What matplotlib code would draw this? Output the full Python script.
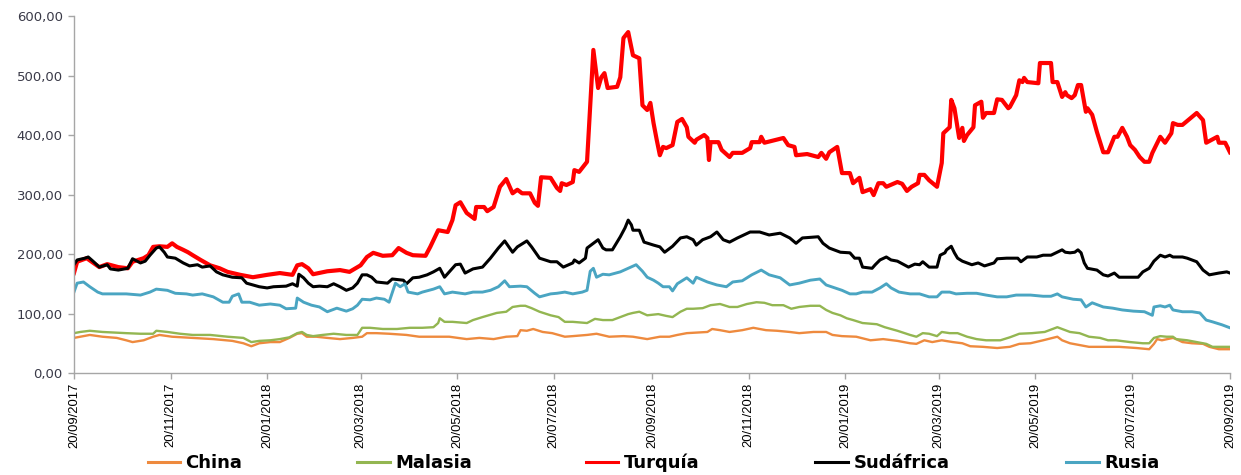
import matplotlib
matplotlib.use('Agg')
import matplotlib.pyplot as plt
import matplotlib.dates as mdates
from matplotlib.ticker import FuncFormatter, MultipleLocator
import pandas as pd

inicio = pd.Timestamp('2017-09-20')
fin = pd.Timestamp('2019-09-20')

# cada serie: dias desde el 20/09/2017 y su valor
china_dias = [0, 4, 10, 18, 27, 33, 37, 44, 50, 54, 62, 75, 88, 100, 107, 112, 117, 124, 130, 136,
              141, 144, 147, 153, 160, 168, 176, 182, 185, 191, 199, 210, 218, 227, 237, 248, 256, 265,
              273, 280, 282, 286, 290, 296, 302, 310, 315, 324, 330, 338, 347, 353, 362, 370, 376, 381,
              387, 400, 403, 408, 414, 422, 429, 437, 444, 452, 458, 467, 475, 479, 485, 494, 503, 511,
              520, 528, 532, 537, 542, 548, 555, 561, 566, 574, 583, 591, 597, 604, 612, 618, 621, 624,
              629, 635, 641, 652, 660, 671, 679, 682, 684, 687, 694, 696, 700, 706, 713, 717, 723, 730]
china = [59, 61, 64, 61, 59, 55, 52, 55, 61, 64, 61, 59, 57, 54, 50, 45, 50, 52, 52, 59,
         66, 67, 61, 61, 59, 57, 59, 61, 67, 67, 66, 64, 61, 61, 61, 57, 59, 57,
         61, 62, 72, 71, 74, 69, 67, 61, 62, 64, 66, 61, 62, 61, 57, 61, 61, 64,
         67, 69, 74, 72, 69, 72, 76, 72, 71, 69, 67, 69, 69, 64, 62, 61, 55, 57,
         54, 50, 49, 55, 52, 55, 52, 50, 45, 44, 42, 44, 49, 50, 55, 59, 61, 55,
         50, 47, 44, 44, 44, 42, 40, 49, 57, 55, 59, 57, 52, 50, 49, 44, 40, 40]

malasia_dias = [0, 4, 10, 18, 33, 42, 50, 52, 59, 67, 75, 86, 97, 107, 112, 117, 124, 130, 136, 141,
                144, 147, 151, 157, 164, 172, 179, 182, 187, 195, 204, 212, 220, 227, 230, 231, 234, 239,
                248, 252, 258, 267, 273, 277, 282, 285, 289, 294, 301, 306, 310, 315, 324, 329, 334, 340,
                350, 353, 357, 362, 369, 374, 378, 383, 387, 391, 397, 402, 408, 414, 419, 425, 431, 436,
                441, 448, 453, 458, 465, 471, 475, 479, 484, 488, 492, 498, 507, 512, 520, 528, 532, 536,
                540, 545, 548, 553, 558, 564, 570, 576, 585, 591, 597, 605, 613, 618, 621, 624, 629, 635,
                641, 648, 653, 658, 667, 675, 679, 682, 686, 690, 694, 696, 703, 709, 715, 719, 730]
malasia = [67, 69, 71, 69, 67, 66, 66, 71, 69, 66, 64, 64, 61, 59, 52, 54, 55, 57, 60, 67,
           69, 64, 62, 64, 66, 64, 64, 76, 76, 74, 74, 76, 76, 77, 84, 92, 86, 86,
           84, 89, 94, 101, 103, 111, 113, 113, 109, 103, 97, 94, 86, 86, 84, 91, 89, 89,
           99, 101, 103, 97, 99, 96, 94, 103, 108, 108, 109, 114, 116, 111, 111, 116, 119, 118,
           114, 114, 108, 111, 113, 113, 106, 101, 97, 92, 89, 84, 82, 77, 71, 64, 61, 67,
           66, 62, 69, 67, 67, 61, 57, 55, 55, 60, 66, 67, 69, 74, 77, 74, 69, 67,
           61, 59, 55, 55, 52, 50, 50, 59, 62, 61, 61, 57, 55, 52, 49, 44, 44]

turquia_dias = [0, 2, 8, 16, 21, 28, 34, 37, 44, 47, 50, 54, 59, 62, 65, 69, 72, 75, 80, 86,
                92, 97, 105, 113, 122, 130, 138, 141, 144, 148, 151, 160, 168, 174, 181, 185, 189, 195,
                201, 205, 210, 214, 222, 225, 230, 236, 239, 241, 244, 248, 253, 254, 259, 261, 265, 269,
                273, 277, 280, 283, 288, 291, 293, 295, 301, 305, 307, 308, 311, 315, 316, 319, 324, 328,
                331, 333, 335, 337, 343, 345, 347, 350, 353, 357, 359, 362, 364, 366, 368, 370, 372, 374,
                378, 381, 384, 387, 388, 392, 393, 398, 400, 401, 402, 407, 409, 414, 416, 422, 427, 428,
                433, 434, 436, 448, 451, 455, 456, 463, 470, 472, 475, 477, 482, 485, 490, 492, 496, 498,
                503, 505, 508, 511, 513, 520, 523, 526, 529, 533, 534, 537, 540, 545, 548, 549, 553, 554,
                556, 559, 561, 562, 564, 568, 569, 573, 574, 576, 581, 583, 586, 590, 591, 595, 597, 599,
                600, 602, 609, 610, 617, 618, 621, 624, 626, 627, 630, 632, 634, 636, 639, 640, 643, 646,
                650, 653, 657, 659, 662, 665, 667, 670, 673, 676, 679, 681, 686, 689, 693, 694, 697, 700,
                709, 713, 715, 722, 723, 727, 730]
turquia = [168, 187, 193, 178, 183, 178, 176, 187, 193, 198, 212, 213, 212, 218, 212, 207, 203, 198, 190, 181,
           176, 170, 165, 161, 165, 168, 165, 181, 183, 176, 166, 171, 173, 170, 181, 195, 202, 197,
           198, 210, 202, 198, 197, 212, 240, 237, 257, 282, 287, 269, 259, 279, 279, 272, 279, 313,
           326, 302, 308, 302, 302, 286, 281, 329, 328, 311, 306, 319, 316, 321, 341, 338, 355, 543,
           479, 497, 504, 479, 481, 497, 563, 573, 534, 529, 450, 442, 454, 420, 392, 366, 380, 378,
           383, 422, 427, 413, 397, 387, 392, 400, 395, 358, 388, 388, 375, 363, 370, 370, 378, 388,
           388, 397, 387, 395, 383, 380, 366, 368, 363, 370, 360, 371, 380, 336, 336, 319, 328, 304,
           309, 299, 319, 319, 313, 321, 318, 306, 313, 319, 333, 333, 324, 313, 353, 403, 413, 459,
           445, 395, 412, 390, 400, 413, 450, 456, 429, 437, 437, 460, 459, 445, 447, 467, 492, 489,
           496, 489, 487, 521, 521, 489, 489, 464, 472, 467, 462, 467, 484, 484, 439, 445, 434, 405,
           371, 371, 397, 397, 412, 397, 383, 375, 363, 355, 355, 370, 397, 387, 403, 420, 417, 417,
           437, 425, 387, 397, 387, 387, 371]

sudafrica_dias = [0, 2, 7, 9, 12, 16, 21, 23, 28, 34, 37, 42, 45, 48, 52, 54, 57, 59, 64, 69,
                  73, 78, 81, 86, 90, 94, 100, 106, 109, 113, 117, 122, 126, 134, 138, 141, 142, 145,
                  148, 151, 155, 160, 164, 168, 172, 176, 179, 182, 185, 188, 191, 198, 201, 208, 210, 214,
                  218, 223, 227, 231, 234, 237, 241, 244, 247, 252, 258, 263, 268, 272, 277, 280, 286, 289,
                  294, 301, 305, 309, 315, 316, 319, 323, 324, 328, 331, 334, 336, 340, 345, 348, 350, 352,
                  353, 357, 360, 366, 370, 373, 378, 383, 387, 391, 393, 397, 402, 406, 410, 414, 419, 427,
                  433, 439, 446, 452, 456, 460, 470, 473, 477, 484, 490, 493, 496, 498, 504, 506, 509, 513,
                  516, 520, 527, 531, 534, 536, 540, 545, 547, 550, 551, 554, 556, 558, 561, 567, 571, 575,
                  581, 583, 589, 596, 598, 602, 608, 612, 617, 624, 626, 629, 632, 634, 636, 638, 640, 646,
                  650, 653, 657, 660, 665, 672, 675, 679, 682, 686, 689, 692, 694, 700, 703, 709, 713, 717,
                  723, 728, 730]
sudafrica = [182, 190, 193, 195, 188, 178, 182, 175, 173, 176, 192, 185, 188, 198, 210, 212, 203, 195, 193, 185,
             180, 182, 178, 180, 170, 165, 161, 160, 151, 148, 145, 143, 145, 146, 150, 146, 166, 160,
             151, 145, 146, 145, 150, 145, 139, 143, 151, 165, 165, 161, 153, 151, 158, 156, 150, 160,
             161, 165, 170, 176, 161, 170, 182, 183, 168, 175, 178, 193, 210, 222, 203, 212, 222, 212,
             193, 187, 187, 178, 185, 190, 185, 193, 210, 218, 224, 210, 207, 207, 229, 244, 257, 249,
             240, 240, 220, 215, 212, 203, 213, 227, 229, 224, 215, 224, 229, 237, 224, 220, 227, 237,
             237, 232, 235, 227, 218, 227, 229, 218, 210, 203, 202, 193, 193, 178, 176, 182, 190, 195,
             190, 188, 178, 183, 182, 187, 178, 178, 198, 202, 207, 213, 202, 193, 188, 182, 185, 180,
             185, 192, 193, 193, 187, 195, 195, 198, 198, 207, 203, 202, 203, 207, 202, 185, 176, 173,
             165, 163, 168, 161, 161, 161, 170, 176, 188, 198, 195, 198, 195, 195, 193, 187, 173, 165,
             168, 170, 168]

rusia_dias = [0, 2, 6, 10, 15, 18, 25, 33, 42, 48, 52, 59, 64, 71, 75, 81, 88, 94, 98, 100,
              104, 106, 111, 117, 124, 130, 134, 140, 141, 145, 150, 155, 160, 166, 172, 176, 179, 182,
              187, 191, 196, 199, 203, 206, 209, 211, 217, 220, 227, 231, 234, 239, 247, 252, 258, 263,
              268, 272, 275, 282, 286, 291, 294, 301, 305, 310, 315, 321, 324, 326, 328, 330, 334, 338,
              345, 350, 355, 359, 362, 366, 369, 372, 376, 378, 381, 387, 391, 393, 400, 406, 412, 416,
              422, 428, 434, 439, 446, 452, 458, 465, 471, 475, 485, 490, 494, 498, 504, 509, 513, 516,
              521, 528, 534, 540, 545, 548, 553, 557, 564, 570, 576, 583, 589, 595, 604, 612, 617, 621,
              624, 631, 636, 639, 643, 650, 656, 662, 669, 676, 681, 682, 686, 689, 692, 694, 700, 706,
              711, 715, 719, 725, 730]
rusia = [136, 151, 153, 145, 136, 133, 133, 133, 131, 136, 141, 139, 134, 133, 131, 133, 128, 119, 119, 129,
         133, 119, 119, 114, 116, 114, 108, 109, 126, 119, 114, 111, 103, 109, 104, 108, 114, 124,
         123, 126, 124, 119, 151, 145, 150, 136, 133, 136, 141, 145, 133, 136, 133, 136, 136, 139,
         145, 155, 145, 146, 145, 134, 128, 133, 134, 136, 133, 136, 139, 171, 176, 161, 166, 165,
         170, 176, 182, 171, 161, 156, 151, 145, 145, 138, 150, 160, 151, 161, 153, 148, 145, 153,
         155, 165, 173, 165, 160, 148, 151, 156, 158, 148, 139, 133, 133, 136, 136, 143, 150, 143,
         136, 133, 133, 128, 128, 136, 136, 133, 134, 134, 131, 128, 128, 131, 131, 129, 129, 133,
         128, 124, 123, 111, 118, 111, 109, 106, 104, 103, 97, 111, 113, 111, 114, 106, 103, 103,
         101, 89, 86, 81, 76]

series = [
    ('China', china_dias, china, '#EE8A3E', 1.7),
    ('Malasia', malasia_dias, malasia, '#93B651', 1.7),
    ('Turquía', turquia_dias, turquia, '#FF0000', 3.0),
    ('Sudáfrica', sudafrica_dias, sudafrica, '#000000', 2.2),
    ('Rusia', rusia_dias, rusia, '#4AA5C2', 2.1),
]

fig = plt.figure(figsize=(12.41, 4.75), dpi=100)
ax = fig.add_axes([0.0596, 0.2147, 0.9315, 0.7516])

lineas = []
for nombre, dias, valores, color, grosor in series:
    fechas = inicio + pd.to_timedelta(dias, unit='D')
    l, = ax.plot(fechas, valores, color=color, lw=grosor, label=nombre,
                 solid_joinstyle='round')
    lineas.append(l)

ax.set_ylim(0, 600)
ax.set_xlim(inicio, fin)
ax.yaxis.set_major_locator(MultipleLocator(100))
ax.yaxis.set_major_formatter(FuncFormatter(lambda v, p: f'{v:.2f}'.replace('.', ',')))

marcas = [inicio + pd.DateOffset(months=2 * i) for i in range(13)]
ax.set_xticks(marcas)
ax.xaxis.set_major_formatter(mdates.DateFormatter('%d/%m/%Y'))

for s in ['top', 'right']:
    ax.spines[s].set_visible(False)
for s in ['left', 'bottom']:
    ax.spines[s].set_color('#A6A6A6')
    ax.spines[s].set_linewidth(1.0)

ax.tick_params(axis='both', color='#A6A6A6', length=4, width=1.0)
ax.tick_params(axis='y', labelsize=9.5, labelcolor='#3A3A48', pad=4)
ax.tick_params(axis='x', pad=3)
for t in ax.get_xticklabels():
    t.set_rotation(90)
    t.set_family('Liberation Sans')
    t.set_fontsize(9.4)
    t.set_ha('center')
    t.set_va('top')

# leyenda inferior, una entrada por serie
pos_leyenda = [0.119, 0.288, 0.472, 0.657, 0.859]
for l, x in zip(lineas, pos_leyenda):
    fig.legend([l], [l.get_label()], loc='center left', bbox_to_anchor=(x, 0.025),
               frameon=False, borderpad=0, borderaxespad=0, handlelength=1.8,
               handletextpad=0.3, prop={'weight': 'bold', 'size': 13})
for leg in fig.legends:
    for h in leg.legend_handles:
        h.set_linewidth(2.2)

fig.savefig('out.png', dpi=100)
